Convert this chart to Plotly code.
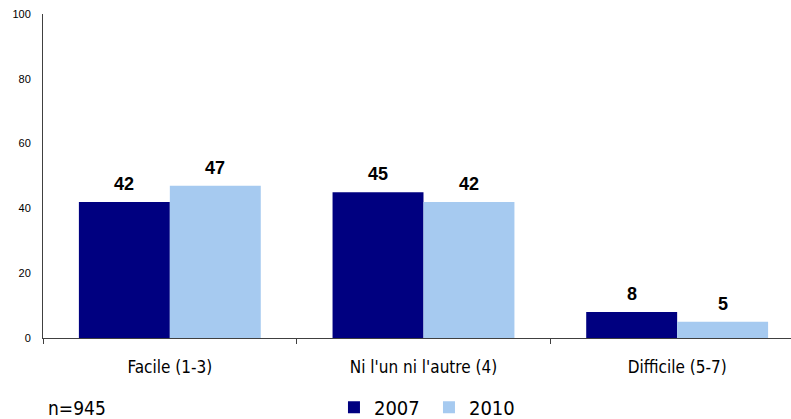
import plotly.graph_objects as go

# Survey answers grouped by difficulty score, two survey waves
categories = ["Facile (1-3)", "Ni l'un ni l'autre (4)", "Difficile (5-7)"]
values_2007 = [42, 45, 8]
values_2010 = [47, 42, 5]
series_names = ["2007", "2010"]
y_ticks = [0, 20, 40, 60, 80, 100]
sample_note = "n=945"

NAVY = "#000080"
LIGHT = "#A6CAF0"
AXIS = "#404040"
NARROW = "Liberation Sans Narrow, Arial Narrow, DejaVu Sans Condensed, sans-serif"
PLAIN = "Liberation Sans, Arial, sans-serif"

fig = go.Figure()
fig.add_trace(go.Bar(x=categories, y=values_2007, name=series_names[0],
                     marker=dict(color=NAVY, line=dict(width=0))))
fig.add_trace(go.Bar(x=categories, y=values_2010, name=series_names[1],
                     marker=dict(color=LIGHT, line=dict(width=0))))

# Bold value labels above each bar
half = 45.5
for cat, v in zip(categories, values_2007):
    fig.add_annotation(x=cat, y=v, text=f"<b>{v}</b>", showarrow=False,
                       xshift=-half, yshift=18, yanchor="middle",
                       font=dict(family=PLAIN, size=18, color="black"))
for cat, v in zip(categories, values_2010):
    fig.add_annotation(x=cat, y=v, text=f"<b>{v}</b>", showarrow=False,
                       xshift=half, yshift=18, yanchor="middle",
                       font=dict(family=PLAIN, size=18, color="black"))

fig.add_annotation(x=0, xref="paper", xshift=3, xanchor="left",
                   y=0, yref="paper", yshift=-70, yanchor="middle",
                   text=sample_note, showarrow=False,
                   font=dict(family=NARROW, size=19, color="black"))

fig.update_layout(
    width=791, height=419,
    margin=dict(l=43, r=0, t=14, b=81, autoexpand=False),
    paper_bgcolor="white", plot_bgcolor="white",
    barmode="group", bargap=0.283, bargroupgap=0,
    showlegend=True,
    legend=dict(orientation="h", x=0.389, xanchor="left",
                yref="container", y=0.028, yanchor="middle",
                font=dict(family=NARROW, size=20, color="black"),
                itemwidth=30, entrywidth=50, traceorder="normal"),
    xaxis=dict(range=[-0.5, 2.5 - 13 / 254], showline=True, linecolor=AXIS,
               linewidth=1, ticks="outside", tickson="boundaries", ticklen=5,
               tickcolor=AXIS, showgrid=False, ticklabelstandoff=14,
               tickfont=dict(family=NARROW, size=17, color="black")),
    yaxis=dict(range=[0, 100], tickvals=y_ticks, showline=True, linecolor=AXIS,
               linewidth=1, ticks="", showgrid=False, zeroline=False,
               ticklabelstandoff=9,
               tickfont=dict(family=PLAIN, size=11, color="black")),
)

fig.write_html("out.html")
